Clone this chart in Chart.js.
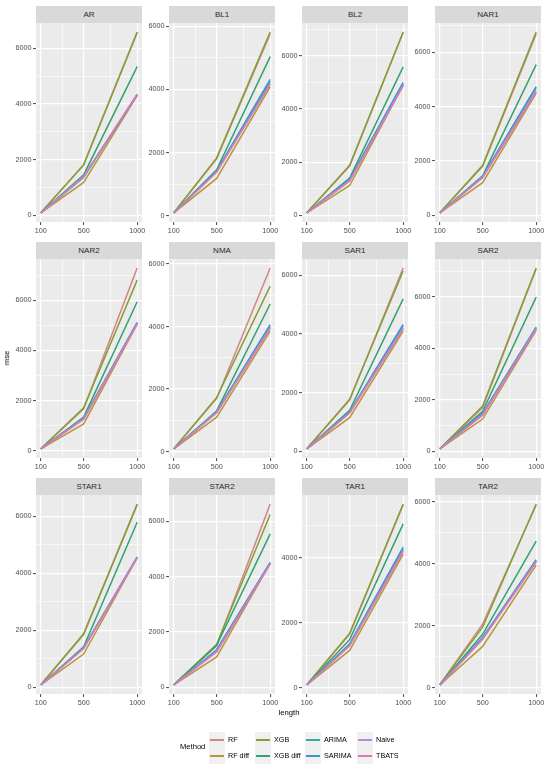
<!DOCTYPE html>
<html><head><meta charset="utf-8">
<script src="https://cdn.jsdelivr.net/npm/chart.js@4"></script>
<style>
html,body{margin:0;padding:0;background:#fff;}
body{width:550px;height:768px;position:relative;overflow:hidden;font-family:"Liberation Sans",Arial,sans-serif;}
.strip{position:absolute;background:#D9D9D9;color:#2A2A2A;font-size:8px;font-weight:400;display:flex;align-items:center;justify-content:center;}
canvas{position:absolute;}
.lbl{position:absolute;white-space:nowrap;color:#1A1A1A;line-height:1;font-weight:400;}
.key{position:absolute;background:#F0F0F0;}
.keyline{position:absolute;height:2px;}
</style></head><body>
<script>
// ---- data ----
const methods = ['RF','RF diff','XGB','XGB diff','ARIMA','SARIMA','Naive','TBATS'];
const colors = ['#d38580','#b7963c','#82a038','#31a36f','#36a8ab','#3399cc','#b88bda','#d879b9'];
const lengths = [100, 500, 1000];
const xTickLabels = [100, 500, 1000];
const xMinorGrid = [300, 750];
const panels = ['AR','BL1','BL2','NAR1','NAR2','NMA','SAR1','SAR2','STAR1','STAR2','TAR1','TAR2'];

// each row: values at lengths 100, 500, 1000 in methods order
const AR    = [[90,1800,6560],[85,1180,4300],[95,1820,6580],[90,1450,5340],[85,1380,4330],[85,1370,4340],[85,1400,4350],[85,1390,4320]];
const BL1   = [[90,1800,5760],[85,1180,4080],[95,1830,5820],[90,1450,5040],[85,1400,4250],[85,1420,4320],[85,1380,4180],[85,1380,4170]];
const BL2   = [[90,1850,6880],[85,1120,4900],[95,1880,6900],[90,1400,5590],[85,1350,4950],[85,1360,5000],[85,1300,4900],[85,1290,4880]];
const NAR1  = [[90,1800,6680],[85,1200,4500],[95,1840,6750],[90,1450,5550],[85,1420,4700],[85,1430,4740],[85,1400,4600],[85,1380,4550]];
const NAR2  = [[90,1680,7280],[85,1080,5050],[95,1720,6800],[90,1350,5940],[85,1300,5100],[85,1310,5120],[85,1280,5080],[85,1270,5060]];
const NMA   = [[90,1700,5870],[85,1100,3850],[95,1730,5290],[90,1300,4720],[85,1270,4000],[85,1280,4060],[85,1250,3960],[85,1240,3940]];
const SAR1  = [[90,1750,6250],[85,1150,4100],[95,1780,6150],[90,1400,5200],[85,1330,4280],[85,1350,4330],[85,1320,4210],[85,1310,4180]];
const SAR2  = [[90,1700,7100],[85,1250,4700],[95,1760,7130],[90,1550,6000],[85,1450,4800],[85,1480,4830],[85,1420,4760],[85,1400,4740]];
const STAR1 = [[90,1850,6400],[85,1170,4550],[95,1880,6430],[90,1420,5790],[85,1380,4560],[85,1390,4580],[85,1370,4560],[85,1360,4540]];
const STAR2 = [[90,1500,6630],[85,1100,4480],[95,1560,6250],[90,1520,5550],[85,1350,4500],[85,1360,4520],[85,1300,4480],[85,1280,4460]];
const TAR1  = [[90,1650,5640],[85,1150,4120],[95,1680,5660],[90,1480,5050],[85,1330,4280],[85,1350,4330],[85,1300,4230],[85,1290,4200]];
const TAR2  = [[90,2050,5900],[85,1330,3960],[95,1950,5930],[90,1720,4730],[85,1600,4100],[85,1620,4130],[85,1580,4080],[85,1560,4060]];
const panelData = [AR,BL1,BL2,NAR1,NAR2,NMA,SAR1,SAR2,STAR1,STAR2,TAR1,TAR2];

// ---- layout ----
const FONT = '"Liberation Sans", Arial, sans-serif';
const colLeft = [36, 169, 302, 435];
const stripTop = [6, 242, 478];
const stripH = 17, panelW = 106, panelH = 199;
const yAxisW = 27, padTop = 6, padRight = 14, xAxisH = 16;

const bgPlugin = {
  id: 'panelBg',
  beforeDraw(chart) {
    const {ctx, chartArea: a} = chart;
    ctx.save();
    ctx.fillStyle = '#EBEBEB';
    ctx.fillRect(a.left, a.top, a.right - a.left, a.bottom - a.top);
    ctx.restore();
  }
};

function el(tag, cls, style, text) {
  const e = document.createElement(tag);
  if (cls) e.className = cls;
  Object.assign(e.style, style || {});
  if (text !== undefined) e.textContent = text;
  document.body.appendChild(e);
  return e;
}

panels.forEach((name, p) => {
  const r = Math.floor(p / 4), c = p % 4;
  const left = colLeft[c], top = stripTop[r];
  el('div', 'strip', {left: left + 'px', top: top + 'px', width: panelW + 'px', height: stripH + 'px'}, name);

  const data = panelData[p];
  const all = data.flat();
  const dmin = Math.min(...all), dmax = Math.max(...all);
  const ext = (dmax - dmin) * 0.05;
  const ymin = dmin - ext, ymax = dmax + ext;
  const xext = (lengths[lengths.length - 1] - lengths[0]) * 0.05;

  const cv = document.createElement('canvas');
  const W = yAxisW + panelW + padRight, H = padTop + panelH + xAxisH;
  cv.width = W; cv.height = H;
  Object.assign(cv.style, {left: (left - yAxisW) + 'px', top: (top + stripH - padTop) + 'px', width: W + 'px', height: H + 'px'});
  document.body.appendChild(cv);

  const xMajor = v => xTickLabels.includes(v);
  const yMajor = v => Math.round(v) % 2000 === 0;

  new Chart(cv, {
    type: 'line',
    data: {
      datasets: methods.map((m, i) => ({
        label: m,
        data: lengths.map((x, j) => ({x: x, y: data[i][j]})),
        borderColor: colors[i],
        backgroundColor: colors[i],
        borderWidth: 1.5,
        pointRadius: 0,
        fill: false,
        tension: 0,
        order: -i
      }))
    },
    options: {
      responsive: false,
      animation: false,
      events: [],
      layout: {padding: {left: 0, right: padRight, top: padTop, bottom: 0}},
      plugins: {legend: {display: false}, tooltip: {enabled: false}},
      scales: {
        x: {
          type: 'linear',
          min: lengths[0] - xext,
          max: lengths[lengths.length - 1] + xext,
          afterBuildTicks: s => { s.ticks = [...xTickLabels, ...xMinorGrid].sort((a, b) => a - b).map(v => ({value: v})); },
          afterFit: s => { s.height = xAxisH; s.paddingLeft = 0; s.paddingRight = 0; },
          border: {display: false},
          grid: {
            color: '#FFFFFF',
            lineWidth: ctx => (ctx.tick && xMajor(ctx.tick.value)) ? 1.2 : 0.6,
            tickColor: ctx => (ctx.tick && xMajor(ctx.tick.value)) ? '#333333' : 'rgba(0,0,0,0)',
            tickWidth: 0.9,
            tickLength: 3,
            drawTicks: true
          },
          ticks: {
            autoSkip: false, maxRotation: 0, padding: 1.5,
            color: '#4D4D4D', font: {family: FONT, size: 7.2},
            callback: v => xMajor(v) ? String(v) : ''
          }
        },
        y: {
          type: 'linear',
          min: ymin, max: ymax,
          afterBuildTicks: s => {
            const t = [];
            for (let v = Math.ceil(ymin / 1000) * 1000; v <= ymax; v += 1000) t.push({value: v});
            s.ticks = t;
          },
          afterFit: s => { s.width = yAxisW; s.paddingTop = 0; s.paddingBottom = 0; },
          border: {display: false},
          grid: {
            color: '#FFFFFF',
            lineWidth: ctx => (ctx.tick && yMajor(ctx.tick.value)) ? 1.2 : 0.6,
            tickColor: ctx => (ctx.tick && yMajor(ctx.tick.value)) ? '#333333' : 'rgba(0,0,0,0)',
            tickWidth: 0.9,
            tickLength: 3,
            drawTicks: true
          },
          ticks: {
            autoSkip: false, padding: 1.5,
            color: '#4D4D4D', font: {family: FONT, size: 7.2},
            callback: v => yMajor(v) ? String(Math.round(v)) : ''
          }
        }
      }
    },
    plugins: [bgPlugin]
  });
});

// axis titles
el('div', 'lbl', {left: '289px', top: '713px', fontSize: '7.7px', transform: 'translate(-50%,-50%)', color: '#000'}, 'length');
el('div', 'lbl', {left: '7px', top: '358px', fontSize: '7.7px', transform: 'translate(-50%,-50%) rotate(-90deg)', color: '#000'}, 'mse');

// legend
el('div', 'lbl', {left: '180px', top: '747px', fontSize: '7.6px', transform: 'translateY(-50%)', color: '#000'}, 'Method');
const legKeyLeft = [209, 255, 305, 357];
const legRowMid = [740, 756];
methods.forEach((m, i) => {
  const c = Math.floor(i / 2), r = i % 2;
  const kx = legKeyLeft[c], ky = legRowMid[r] - 8;
  el('div', 'key', {left: kx + 'px', top: ky + 'px', width: '16px', height: '16px'});
  el('div', 'keyline', {left: (kx + 1) + 'px', top: (legRowMid[r] - 1) + 'px', width: '14px', background: colors[i]});
  el('div', 'lbl', {left: (kx + 19) + 'px', top: legRowMid[r] + 'px', fontSize: '7.2px', transform: 'translateY(-50%)', color: '#000'}, m);
});
</script>
</body></html>
